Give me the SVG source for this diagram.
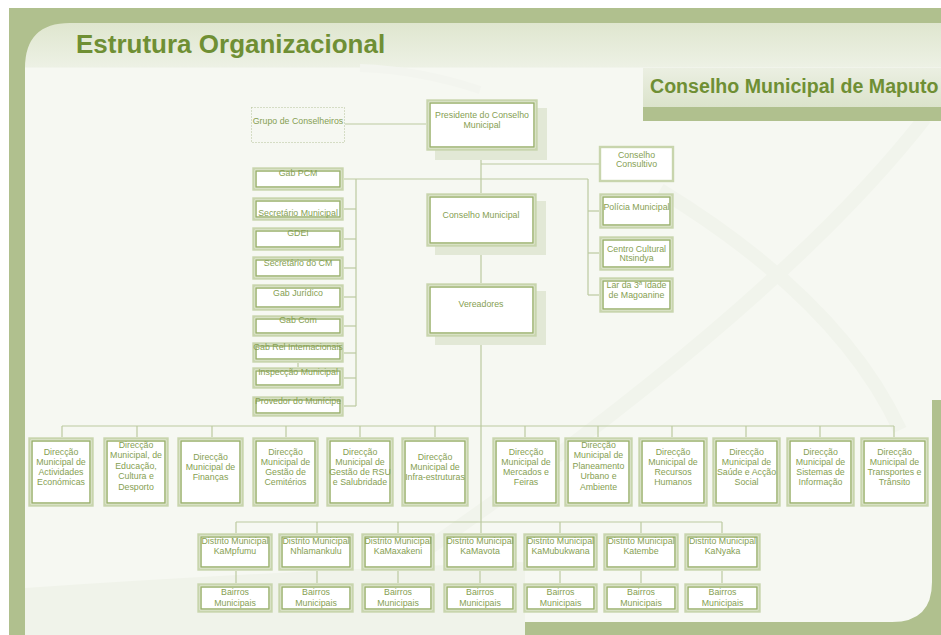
<svg xmlns="http://www.w3.org/2000/svg" width="941" height="635" viewBox="0 0 941 635">
<defs>
<linearGradient id="hdr" x1="0" y1="23" x2="0" y2="635" gradientUnits="userSpaceOnUse">
<stop offset="0" stop-color="#dfe6cf"/>
<stop offset="0.072" stop-color="#edf1e5"/>
<stop offset="0.0735" stop-color="#f6f8f2"/>
<stop offset="1" stop-color="#f6f8f2"/>
</linearGradient>
<linearGradient id="band" x1="0" y1="68" x2="0" y2="107" gradientUnits="userSpaceOnUse">
<stop offset="0" stop-color="#ebefe2"/>
<stop offset="1" stop-color="#dbe3cb"/>
</linearGradient>
<style>
.o{fill:#fff;stroke:#c8d5ad;stroke-width:2.4}
.i{fill:none;stroke:#9ab16c;stroke-width:1.5}
.sh{fill:#e2e8d6}
.t{font-family:"Liberation Sans",Arial,sans-serif;font-size:8.8px;fill:#86a052;text-anchor:middle}
.c{fill:none;stroke:#bccaa0;stroke-width:1.2}
.ttl{font-family:"Liberation Sans",Arial,sans-serif;font-weight:bold;fill:#6f8f34}
</style>
</defs>
<rect x="0" y="0" width="941" height="635" fill="#ffffff"/>
<rect x="9" y="8" width="932" height="627" fill="#b0c08e"/>
<path d="M25,68 Q25,23 70,23 L941,23 L941,400 L932,400 L932,582 Q932,622 892,622 L525,622 L525,635 L25,635 Z" fill="url(#hdr)"/>
<path d="M360,68 Q420,70 480,90" fill="none" stroke="#f3f5ef" stroke-width="8"/>
<path d="M925,118 Q760,330 320,622" fill="none" stroke="#f1f4ec" stroke-width="14"/>
<path d="M660,190 Q840,300 900,430" fill="none" stroke="#f1f4ec" stroke-width="14"/>
<path d="M25,588 Q260,572 525,562 L525,635 L25,635 Z" fill="#f0f3ea"/>
<rect x="643" y="68" width="298" height="39" fill="url(#band)"/>
<rect x="643" y="107" width="298" height="14" fill="#b0c08e"/>
<text class="ttl" x="76" y="53" font-size="26">Estrutura Organizacional</text>
<text class="ttl" x="650" y="93" font-size="19.6">Conselho Municipal de Maputo</text>

<g id="connectors">
<line class="c" x1="345" y1="124" x2="426" y2="124"/>
<line class="c" x1="481" y1="151" x2="481" y2="193"/>
<line class="c" x1="481" y1="164" x2="599" y2="164"/>
<line class="c" x1="344" y1="179" x2="588" y2="179"/>
<line class="c" x1="356" y1="179" x2="356" y2="406"/>
<line class="c" x1="344" y1="209" x2="356" y2="209"/>
<line class="c" x1="344" y1="239" x2="356" y2="239"/>
<line class="c" x1="344" y1="268" x2="356" y2="268"/>
<line class="c" x1="344" y1="297" x2="356" y2="297"/>
<line class="c" x1="344" y1="326" x2="356" y2="326"/>
<line class="c" x1="344" y1="353" x2="356" y2="353"/>
<line class="c" x1="344" y1="378" x2="356" y2="378"/>
<line class="c" x1="344" y1="406" x2="356" y2="406"/>
<line class="c" x1="298" y1="363" x2="298" y2="367"/>
<line class="c" x1="588" y1="179" x2="588" y2="295"/>
<line class="c" x1="588" y1="211" x2="599" y2="211"/>
<line class="c" x1="588" y1="253" x2="599" y2="253"/>
<line class="c" x1="588" y1="295" x2="599" y2="295"/>
<line class="c" x1="481" y1="247" x2="481" y2="283"/>
<line class="c" x1="481" y1="337" x2="481" y2="533"/>
<line class="c" x1="62" y1="426" x2="894" y2="426"/>
<path class="c" d="M62,426V437M137,426V437M212,426V437M286,426V437M360,426V437M435,426V437M525,426V437M598,426V437M672,426V437M746,426V437M820,426V437M894,426V437"/>
<line class="c" x1="236" y1="522" x2="722" y2="522"/>
<path class="c" d="M236,522V533M317,522V533M398,522V533M560,522V533M641,522V533M722,522V533"/>
<path class="c" d="M236,571V583M317,571V583M398,571V583M480,571V583M560,571V583M641,571V583M722,571V583"/>
</g>

<g id="grupo-conselheiros">
<rect x="251.5" y="107.5" width="93" height="35" fill="none" stroke="#b5c298" stroke-width="1" stroke-dasharray="1 2"/>
<text class="t" x="298" y="124">Grupo de Conselheiros</text>
</g>
<g id="presidente">
<rect class="sh" x="435" y="108" width="112" height="52"/>
<rect class="o" x="427.5" y="100.5" width="109" height="49"/>
<rect class="i" x="430" y="103" width="104" height="44"/>
<text class="t" x="482" y="118">Presidente do Conselho</text>
<text class="t" x="482" y="128">Municipal</text>
</g>
<g id="conselho-municipal">
<rect class="sh" x="435" y="201" width="111" height="54"/>
<rect class="o" x="427.5" y="194.5" width="108" height="51"/>
<rect class="i" x="430" y="197" width="103" height="46"/>
<text class="t" x="481" y="218">Conselho Municipal</text>
</g>
<g id="vereadores">
<rect class="sh" x="435" y="291" width="111" height="54"/>
<rect class="o" x="427.5" y="284.5" width="108" height="51"/>
<rect class="i" x="430" y="287" width="103" height="46"/>
<text class="t" x="481" y="307">Vereadores</text>
</g>

<g id="conselho-consultivo">
<rect class="o" x="600" y="147" width="73" height="34" stroke-width="2"/>
<text class="t" x="636.5" y="158">Conselho</text>
<text class="t" x="636.5" y="167">Consultivo</text>
</g>
<g id="policia-municipal">
<rect class="o" x="600.5" y="194.5" width="72" height="33"/>
<rect class="i" x="603" y="197" width="67" height="28" stroke-width="1.8"/>
<text class="t" x="636.5" y="210">Polícia Municipal</text>
</g>
<g id="centro-cultural">
<rect class="o" x="600.5" y="237.5" width="72" height="32"/>
<rect class="i" x="603" y="240" width="67" height="27"/>
<text class="t" x="636.5" y="252">Centro Cultural</text>
<text class="t" x="636.5" y="261">Ntsindya</text>
</g>
<g id="lar-terceira-idade">
<rect class="o" x="600.5" y="278.5" width="72" height="33"/>
<rect class="i" x="603" y="281" width="67" height="28"/>
<text class="t" x="636.5" y="288">Lar da 3ª Idade</text>
<text class="t" x="636.5" y="298">de Magoanine</text>
</g>

<g id="gab-pcm"><rect class="o" x="253.5" y="168.5" width="89" height="21"/><rect class="i" x="256" y="171" width="84" height="16"/><text class="t" x="298" y="176">Gab PCM</text></g>
<g id="secretario-municipal"><rect class="o" x="253.5" y="198.5" width="89" height="21"/><rect class="i" x="256" y="201" width="84" height="16"/><text class="t" x="298" y="216">Secretário Municipal</text></g>
<g id="gdei"><rect class="o" x="253.5" y="228.5" width="89" height="21"/><rect class="i" x="256" y="231" width="84" height="16"/><text class="t" x="298" y="236">GDEI</text></g>
<g id="secretario-cm"><rect class="o" x="253.5" y="257.5" width="89" height="21"/><rect class="i" x="256" y="260" width="84" height="16"/><text class="t" x="298" y="266">Secretário do CM</text></g>
<g id="gab-juridico"><rect class="o" x="253.5" y="285.5" width="89" height="24"/><rect class="i" x="256" y="288" width="84" height="19"/><text class="t" x="298" y="296">Gab Jurídico</text></g>
<g id="gab-com"><rect class="o" x="253.5" y="316.5" width="89" height="19"/><rect class="i" x="256" y="319" width="84" height="14"/><text class="t" x="298" y="323">Gab Com</text></g>
<g id="gab-rel"><rect class="o" x="253.5" y="343.5" width="89" height="18"/><rect class="i" x="256" y="346" width="84" height="13"/><text class="t" x="298" y="350">Gab Rel Internacionais</text></g>
<g id="inspeccao"><rect class="o" x="253.5" y="368.5" width="89" height="19"/><rect class="i" x="256" y="371" width="84" height="14"/><text class="t" x="298" y="375">Inspecção Municipal</text></g>
<g id="provedor"><rect class="o" x="253.5" y="397.5" width="89" height="18"/><rect class="i" x="256" y="400" width="84" height="13"/><text class="t" x="298" y="404">Provedor do Munícipe</text></g>

<g id="dm-actividades"><rect class="o" x="29.5" y="438.5" width="63" height="67"/><rect class="i" x="32" y="441" width="58" height="62"/>
<text class="t" x="61" y="455">Direcção</text><text class="t" x="61" y="465">Municipal de</text><text class="t" x="61" y="475">Actividades</text><text class="t" x="61" y="485">Económicas</text></g>
<g id="dm-educacao"><rect class="o" x="104.5" y="438.5" width="63" height="67"/><rect class="i" x="107" y="441" width="58" height="62"/>
<text class="t" x="136" y="448">Direcção</text><text class="t" x="136" y="458">Municipal, de</text><text class="t" x="136" y="469">Educação,</text><text class="t" x="136" y="479">Cultura e</text><text class="t" x="136" y="490">Desporto</text></g>
<g id="dm-financas"><rect class="o" x="178.5" y="438.5" width="64" height="67"/><rect class="i" x="181" y="441" width="59" height="62"/>
<text class="t" x="210.5" y="460">Direcção</text><text class="t" x="210.5" y="470">Municipal de</text><text class="t" x="210.5" y="480">Finanças</text></g>
<g id="dm-cemiterios"><rect class="o" x="253.5" y="438.5" width="64" height="67"/><rect class="i" x="256" y="441" width="59" height="62"/>
<text class="t" x="285.5" y="455">Direcção</text><text class="t" x="285.5" y="465">Municipal de</text><text class="t" x="285.5" y="475">Gestão de</text><text class="t" x="285.5" y="485">Cemitérios</text></g>
<g id="dm-rsu"><rect class="o" x="327.5" y="438.5" width="65" height="67"/><rect class="i" x="330" y="441" width="60" height="62"/>
<text class="t" x="360" y="455">Direcção</text><text class="t" x="360" y="465">Municipal de</text><text class="t" x="360" y="475">Gestão de RSU</text><text class="t" x="360" y="485">e Salubridade</text></g>
<g id="dm-infra"><rect class="o" x="402.5" y="438.5" width="65" height="67"/><rect class="i" x="405" y="441" width="60" height="62"/>
<text class="t" x="435" y="460">Direcção</text><text class="t" x="435" y="470">Municipal de</text><text class="t" x="435" y="480">Infra-estruturas</text></g>
<g id="dm-mercados"><rect class="o" x="493.5" y="438.5" width="65" height="67"/><rect class="i" x="496" y="441" width="60" height="62"/>
<text class="t" x="526" y="455">Direcção</text><text class="t" x="526" y="465">Municipal de</text><text class="t" x="526" y="475">Mercados e</text><text class="t" x="526" y="485">Feiras</text></g>
<g id="dm-planeamento"><rect class="o" x="565.5" y="438.5" width="66" height="67"/><rect class="i" x="568" y="441" width="61" height="62"/>
<text class="t" x="598.5" y="448">Direcção</text><text class="t" x="598.5" y="458">Municipal de</text><text class="t" x="598.5" y="469">Planeamento</text><text class="t" x="598.5" y="479">Urbano e</text><text class="t" x="598.5" y="490">Ambiente</text></g>
<g id="dm-rh"><rect class="o" x="639.5" y="438.5" width="67" height="67"/><rect class="i" x="642" y="441" width="62" height="62"/>
<text class="t" x="673" y="455">Direcção</text><text class="t" x="673" y="465">Municipal de</text><text class="t" x="673" y="475">Recursos</text><text class="t" x="673" y="485">Humanos</text></g>
<g id="dm-saude"><rect class="o" x="713.5" y="438.5" width="66" height="67"/><rect class="i" x="716" y="441" width="61" height="62"/>
<text class="t" x="746.5" y="455">Direcção</text><text class="t" x="746.5" y="465">Municipal de</text><text class="t" x="746.5" y="475">Saúde e Acção</text><text class="t" x="746.5" y="485">Social</text></g>
<g id="dm-sistemas"><rect class="o" x="787.5" y="438.5" width="66" height="67"/><rect class="i" x="790" y="441" width="61" height="62"/>
<text class="t" x="820.5" y="455">Direcção</text><text class="t" x="820.5" y="465">Municipal de</text><text class="t" x="820.5" y="475">Sistemas de</text><text class="t" x="820.5" y="485">Informação</text></g>
<g id="dm-transportes"><rect class="o" x="861.5" y="438.5" width="66" height="67"/><rect class="i" x="864" y="441" width="61" height="62"/>
<text class="t" x="894.5" y="455">Direcção</text><text class="t" x="894.5" y="465">Municipal de</text><text class="t" x="894.5" y="475">Transportes e</text><text class="t" x="894.5" y="485">Trânsito</text></g>

<g id="d-kampfumu"><rect class="o" x="198.5" y="534.5" width="73" height="35"/><rect class="i" x="201" y="537" width="68" height="30"/><text class="t" x="235" y="544">Distrito Municipal</text><text class="t" x="235" y="554">KaMpfumu</text></g>
<g id="d-nhlamankulu"><rect class="o" x="279.5" y="534.5" width="73" height="35"/><rect class="i" x="282" y="537" width="68" height="30"/><text class="t" x="316" y="544">Distrito Municipal</text><text class="t" x="316" y="554">Nhlamankulu</text></g>
<g id="d-kamaxakeni"><rect class="o" x="362.5" y="534.5" width="71" height="35"/><rect class="i" x="365" y="537" width="66" height="30"/><text class="t" x="398" y="544">Distrito Municipal</text><text class="t" x="398" y="554">KaMaxakeni</text></g>
<g id="d-kamavota"><rect class="o" x="444.5" y="534.5" width="71" height="35"/><rect class="i" x="447" y="537" width="66" height="30"/><text class="t" x="480" y="544">Distrito Municipal</text><text class="t" x="480" y="554">KaMavota</text></g>
<g id="d-kamubukwana"><rect class="o" x="524.5" y="534.5" width="72" height="35"/><rect class="i" x="527" y="537" width="67" height="30"/><text class="t" x="560.5" y="544">Distrito Municipal</text><text class="t" x="560.5" y="554">KaMubukwana</text></g>
<g id="d-katembe"><rect class="o" x="604.5" y="534.5" width="73" height="35"/><rect class="i" x="607" y="537" width="68" height="30"/><text class="t" x="641" y="544">Distrito Municipal</text><text class="t" x="641" y="554">Katembe</text></g>
<g id="d-kanyaka"><rect class="o" x="685.5" y="534.5" width="74" height="35"/><rect class="i" x="688" y="537" width="69" height="30"/><text class="t" x="722.5" y="544">Distrito Municipal</text><text class="t" x="722.5" y="554">KaNyaka</text></g>

<g id="b-kampfumu"><rect class="o" x="198.5" y="584.5" width="73" height="27"/><rect class="i" x="201" y="587" width="68" height="22"/><text class="t" x="235" y="595">Bairros</text><text class="t" x="235" y="606">Municipais</text></g>
<g id="b-nhlamankulu"><rect class="o" x="279.5" y="584.5" width="73" height="27"/><rect class="i" x="282" y="587" width="68" height="22"/><text class="t" x="316" y="595">Bairros</text><text class="t" x="316" y="606">Municipais</text></g>
<g id="b-kamaxakeni"><rect class="o" x="362.5" y="584.5" width="71" height="27"/><rect class="i" x="365" y="587" width="66" height="22"/><text class="t" x="398" y="595">Bairros</text><text class="t" x="398" y="606">Municipais</text></g>
<g id="b-kamavota"><rect class="o" x="444.5" y="584.5" width="71" height="27"/><rect class="i" x="447" y="587" width="66" height="22"/><text class="t" x="480" y="595">Bairros</text><text class="t" x="480" y="606">Municipais</text></g>
<g id="b-kamubukwana"><rect class="o" x="524.5" y="584.5" width="72" height="27"/><rect class="i" x="527" y="587" width="67" height="22"/><text class="t" x="560.5" y="595">Bairros</text><text class="t" x="560.5" y="606">Municipais</text></g>
<g id="b-katembe"><rect class="o" x="604.5" y="584.5" width="73" height="27"/><rect class="i" x="607" y="587" width="68" height="22"/><text class="t" x="641" y="595">Bairros</text><text class="t" x="641" y="606">Municipais</text></g>
<g id="b-kanyaka"><rect class="o" x="685.5" y="584.5" width="74" height="27"/><rect class="i" x="688" y="587" width="69" height="22"/><text class="t" x="722.5" y="595">Bairros</text><text class="t" x="722.5" y="606">Municipais</text></g>
</svg>
